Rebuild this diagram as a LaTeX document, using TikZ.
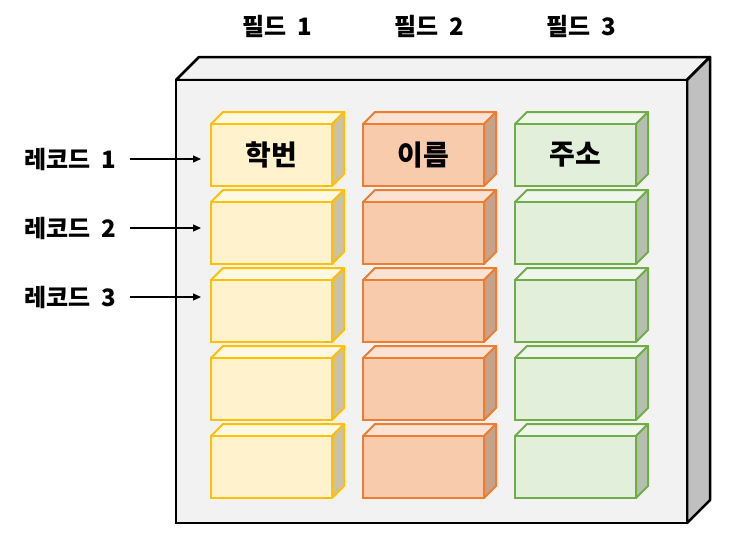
\documentclass[tikz,border=0pt]{standalone}
\usepackage{fontspec}
\setmainfont{Noto Sans CJK KR}
\usetikzlibrary{positioning,arrows.meta}
\definecolor{ylwline}{HTML}{FFC000}
\definecolor{ylwfill}{HTML}{FFF2CC}
\definecolor{orgline}{HTML}{ED7D31}
\definecolor{orgfill}{HTML}{F8CBAD}
\definecolor{grnline}{HTML}{70AD47}
\definecolor{grnfill}{HTML}{E2EFDA}
\definecolor{tablefront}{HTML}{F2F2F2}
\definecolor{tableside}{HTML}{C0C0C0}

\begin{document}
\begin{tikzpicture}[x=1pt, y=-1pt,
    cell/.style={draw=#1line, fill=#1fill, line width=2pt, minimum width=121pt, minimum height=62pt, inner sep=0pt, font=\fontsize{28}{28}\selectfont\bfseries},
    lbl/.style={inner sep=0pt, font=\fontsize{24}{24}\selectfont\bfseries},
    arr/.style={-{Triangle[length=8pt, width=7pt]}, line width=1.2pt}
]
    \useasboundingbox (0,0) rectangle (738,547);

    % Table
    \draw[line width=2.5pt, line join=round, fill=tablefront] (176,80) -- (199,57) -- (710,57) -- (687,80) -- cycle;
    \draw[line width=2.5pt, line join=round, fill=tableside] (687,80) -- (710,57) -- (710,500) -- (687,523) -- cycle;
    \draw[line width=2.5pt, fill=tablefront] (176,80) rectangle (687,523);

    % Cells
    \foreach \col/\head [count=\c from 0] in {ylw/학번, org/이름, grn/주소} {
        \foreach \r in {1,...,5} {
            \pgfmathsetmacro\xl{211+152*\c}
            \pgfmathsetmacro\yt{124+78*(\r-1)}
            \draw[line width=2pt, line join=round, draw=\col line, fill=\col fill!55!white] (\xl,\yt) -- ++(12,-12) -- ++(121,0) -- ++(-12,12) -- cycle;
            \draw[line width=2pt, line join=round, draw=\col line, fill=\col fill!80!black] (\xl+121,\yt) -- ++(12,-12) -- ++(0,62) -- ++(-12,12) -- cycle;
            \node[cell=\col] (c\r\c) at (\xl+60.5,\yt+31) {\ifnum\r=1 \head\fi};
        }
    }

    % Fields
    \foreach \n in {1,2,3} {
        \node[lbl] (fld\n) at ({125+152*\n},26) {필드\hspace{0.45em}\n};
    }

    % Records
    \foreach \n/\y in {1/159, 2/228, 3/297} {
        \node[lbl] (rec\n) at (70,\y) {레코드\hspace{0.45em}\n};
        \draw[arr, shorten <=14pt, shorten >=9pt] (rec\n.east) -- (rec\n.east -| c\n0.west);
    }
\end{tikzpicture}
\end{document}
